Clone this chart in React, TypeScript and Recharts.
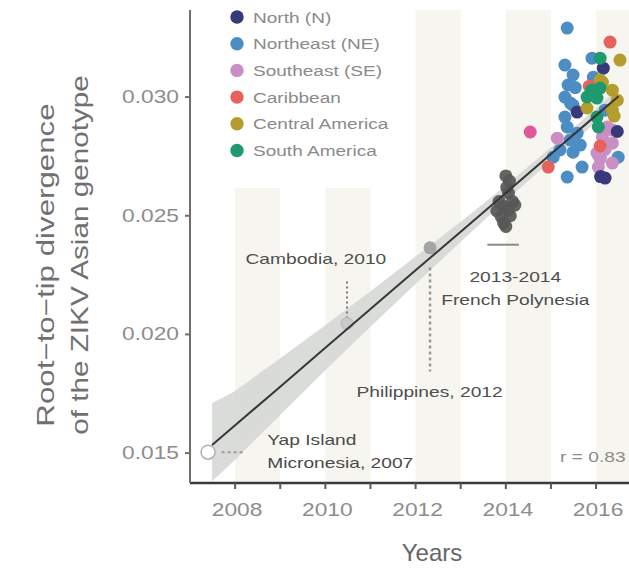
import React from 'react';
import {
  ComposedChart,
  XAxis,
  YAxis,
  Scatter,
  Line,
  Area,
  ReferenceArea,
  ReferenceLine,
  Legend,
} from 'recharts';

const FONT = '"Liberation Sans", Arial, Helvetica, sans-serif';

// ---- linear fit of root-to-tip divergence against sampling year ----
const fitYears = [2007.49, 2008, 2009, 2010, 2011, 2012, 2013, 2014, 2015, 2016, 2016.5];
const fitValues = [0.01534, 0.01617, 0.0178, 0.01944, 0.02107, 0.0227, 0.02433, 0.02596, 0.0276, 0.02923, 0.03004];
const bandLower = [0.0138, 0.01472, 0.0166, 0.01849, 0.02032, 0.02212, 0.02391, 0.02564, 0.02732, 0.02893, 0.0297];
const bandUpper = [0.0171, 0.01762, 0.019, 0.02039, 0.02182, 0.02328, 0.02475, 0.02628, 0.02788, 0.02953, 0.03038];

// ---- American samples by region: [year, divergence] ----
const northSamples = [
  [2016.16, 0.03122], [2015.58, 0.02937], [2016.47, 0.02855], [2016.2, 0.02659], [2016.1, 0.02665],
];
const northeastSamples = [
  [2015.36, 0.03291], [2015.91, 0.03164], [2015.31, 0.03135], [2015.49, 0.03093], [2015.94, 0.03084],
  [2015.38, 0.03051], [2015.54, 0.0304], [2015.31, 0.03], [2015.43, 0.02975], [2015.49, 0.02966],
  [2016.2, 0.02945], [2015.31, 0.02916], [2015.36, 0.02874], [2015.58, 0.02848], [2015.43, 0.02819],
  [2015.65, 0.02798], [2015.2, 0.02777], [2015.49, 0.02768], [2016.05, 0.02756], [2016.09, 0.02747],
  [2016.49, 0.02747], [2015.05, 0.02747], [2015.69, 0.02705], [2015.36, 0.02663],
];
const southeastSamples = [
  [2016.25, 0.02874], [2016.36, 0.02861], [2016.14, 0.02832], [2015.14, 0.02827], [2016.36, 0.02806],
  [2016.2, 0.0278], [2016.02, 0.02764], [2016.09, 0.0274], [2016.36, 0.02722], [2016.05, 0.02705],
];
const caribbeanSamples = [
  [2016.31, 0.03232], [2015.85, 0.03046], [2016.09, 0.02794], [2014.94, 0.02705],
];
const centralAmericaSamples = [
  [2016.53, 0.03156], [2016.09, 0.03072], [2016.14, 0.03063], [2016.36, 0.03029], [2016.47, 0.02987],
  [2015.8, 0.02954], [2016.36, 0.02945], [2016.4, 0.0292],
];
const southAmericaSamples = [
  [2016.09, 0.03164], [2016.09, 0.03038], [2015.9, 0.0303], [2015.8, 0.03], [2016.02, 0.02996],
  [2016.02, 0.02916], [2016.05, 0.02874],
];
const singleOutlier = [[2014.54, 0.02853]];

const regionNames = ['North (N)', 'Northeast (NE)', 'Southeast (SE)', 'Caribbean', 'Central America', 'South America'];
const regionSamples = [
  northSamples, northeastSamples, southeastSamples, caribbeanSamples, centralAmericaSamples, southAmericaSamples,
];

// ---- Pacific / Asian reference samples ----
const yapSample = [[2007.4, 0.01504]];
const cambodiaSample = [[2010.48, 0.02046]];
const philippinesSample = [[2012.32, 0.02365]];
const frenchPolynesiaSamples = [
  [2014.0, 0.02668], [2014.08, 0.02646], [2014.02, 0.0262], [2014.06, 0.02596],
  [2013.85, 0.0256], [2014.15, 0.0256], [2013.95, 0.0254], [2014.2, 0.02545], [2013.8, 0.0252],
  [2014.05, 0.02525], [2013.9, 0.02495], [2014.1, 0.025], [2013.95, 0.0247], [2014.0, 0.02455],
];

// ---- annotation texts anchored in data space ----
const centredNotes = [
  { x: 2009.79, y: 0.02295, text: 'Cambodia, 2010' },
  { x: 2012.31, y: 0.01736, text: 'Philippines, 2012' },
  { x: 2014.21, y: 0.02222, text: '2013-2014' },
  { x: 2014.21, y: 0.02125, text: 'French Polynesia' },
];
const leftNotes = [
  { x: 2008.71, y: 0.01534, text: 'Yap Island' },
  { x: 2008.71, y: 0.01437, text: 'Micronesia, 2007' },
];
const statNotes = [{ x: 2015.2, y: 0.01462, text: 'r = 0.83' }];

// ---- leader lines ----
const yapLeader = [[2007.7, 0.01504], [2008.22, 0.01504]];
const cambodiaLeader = [[2010.48, 0.02223], [2010.48, 0.02063]];
const philippinesLeader = [[2012.32, 0.02282], [2012.32, 0.01844]];
const polynesiaSpan = [[2013.59, 0.02378], [2014.29, 0.02378]];

// ---- axes and shaded years ----
const xTicks = [2008, 2009, 2010, 2011, 2012, 2013, 2014, 2015, 2016];
const yTicks = [0.015, 0.02, 0.025, 0.03];
const X_DOMAIN = [2007, 2016.73];
const Y_DOMAIN = [0.01374, 0.03367];
const stripeStarts = [2008, 2010, 2012, 2014, 2016];
const stripeEnds = [2009, 2011, 2013, 2015, 2016.73];

const regionColors = ['#37397a', '#4c8dc4', '#c98fc4', '#e8625c', '#b39d2c', '#1e9a6e'];
const drawOrder = [1, 2, 0, 3, 4, 5];

const toPoints = (rows: number[][]) => rows.map(([x, y]) => ({ x, y }));
const toSegment = (rows: number[][]) => rows.map(([x, y]) => ({ x, y }));

const fitRows = fitYears.map((x, i) => ({
  x,
  fit: fitValues[i],
  band: [bandLower[i], bandUpper[i]],
}));

function StretchText(props: any) {
  const { x, y, sx = 1, size, fill, anchor = 'start', rotate = false, children } = props;
  const t = `translate(${x},${y})${rotate ? ' rotate(-90)' : ''} scale(${sx},1)`;
  return (
    <text transform={t} x={0} y={0} textAnchor={anchor} fontSize={size} fill={fill} fontFamily={FONT}>
      {children}
    </text>
  );
}

const renderXTick = (p: any) => {
  const v = p.payload.value;
  if (v % 2 !== 0) return <g />;
  return (
    <StretchText x={p.x + 2} y={p.y + 25} sx={1.3} size={17.5} fill="#8c8c8c" anchor="middle">
      {String(v)}
    </StretchText>
  );
};

const renderYTick = (p: any) => (
  <StretchText x={p.x} y={p.y + 6} sx={1.3} size={17.5} fill="#8c8c8c" anchor="end">
    {Number(p.payload.value).toFixed(3)}
  </StretchText>
);

const YTitle = () => (
  <g>
    <StretchText x={54} y={265} sx={1.36} size={23} fill="#707070" anchor="middle" rotate>
      Root−to−tip divergence
    </StretchText>
    <StretchText x={88} y={255} sx={1.29} size={23} fill="#707070" anchor="middle" rotate>
      of the ZIKV Asian genotype
    </StretchText>
  </g>
);

const XTitle = () => (
  <StretchText x={432} y={561} sx={1} size={24} fill="#666666" anchor="middle">
    Years
  </StretchText>
);

const dotShape = (r: number, fill: string, stroke = 'none', strokeWidth = 0, opacity = 1) => (p: any) => (
  <circle cx={p.cx} cy={p.cy} r={r} fill={fill} stroke={stroke} strokeWidth={strokeWidth} fillOpacity={opacity} />
);

const noteShape = (anchor: string, fill: string) => (p: any) => (
  <StretchText x={p.cx} y={p.cy} sx={1.28} size={15} fill={fill} anchor={anchor}>
    {p.payload.text}
  </StretchText>
);

const renderLegend = () => (
  <svg width={221} height={178} style={{ display: 'block', background: '#ffffff' }}>
    {regionNames.map((name, i) => {
      const cy = 7 + i * 26.7;
      return (
        <g key={name}>
          <circle cx={45} cy={cy} r={6.7} fill={regionColors[i]} />
          <StretchText x={61} y={cy + 5.5} sx={1.27} size={15} fill="#8a8a8a">
            {name}
          </StretchText>
        </g>
      );
    })}
  </svg>
);

export default function App() {
  return (
    <div style={{ position: 'absolute', left: 0, top: 0, width: 629, height: 570, background: '#ffffff' }}>
      <ComposedChart
        width={629}
        height={570}
        data={fitRows}
        margin={{ top: 10, right: 0, bottom: 0, left: 0 }}
        style={{ fontFamily: FONT }}
      >
        <XAxis
          type="number"
          dataKey="x"
          domain={X_DOMAIN}
          ticks={xTicks}
          interval={0}
          allowDataOverflow
          height={87}
          tick={renderXTick}
          tickSize={6}
          tickMargin={2}
          axisLine={{ stroke: '#3a3a3a', strokeWidth: 2.5 }}
          tickLine={{ stroke: '#5a5a5a', strokeWidth: 2 }}
          label={<XTitle />}
        />
        <YAxis
          type="number"
          domain={Y_DOMAIN}
          ticks={yTicks}
          interval={0}
          allowDataOverflow
          width={190}
          tick={renderYTick}
          tickSize={5}
          tickMargin={6}
          axisLine={{ stroke: '#6e6e6e', strokeWidth: 2 }}
          tickLine={{ stroke: '#6e6e6e', strokeWidth: 2 }}
          label={<YTitle />}
        />

        {stripeStarts.map((s, i) => (
          <ReferenceArea
            key={`stripe-${s}`}
            x1={s}
            x2={stripeEnds[i]}
            y1={Y_DOMAIN[0]}
            y2={Y_DOMAIN[1]}
            fill="#f6f5ef"
            fillOpacity={1}
            stroke="none"
            ifOverflow="hidden"
            zIndex={-50}
          />
        ))}

        <Area
          dataKey="band"
          type="linear"
          fill="#d4d6d4"
          fillOpacity={0.85}
          stroke="none"
          isAnimationActive={false}
          activeDot={false}
          zIndex={100}
        />

        <ReferenceLine segment={toSegment(yapLeader)} stroke="#9a9a9a" strokeWidth={2} strokeDasharray="3 3" zIndex={500} />
        <ReferenceLine segment={toSegment(cambodiaLeader)} stroke="#7a7a7a" strokeWidth={2} strokeDasharray="2 3" zIndex={500} />
        <ReferenceLine segment={toSegment(philippinesLeader)} stroke="#9a9a9a" strokeWidth={2.5} strokeDasharray="3 3" zIndex={500} />
        <ReferenceLine segment={toSegment(polynesiaSpan)} stroke="#8a8a8a" strokeWidth={2} zIndex={500} />

        <Scatter name="Yap" data={toPoints(yapSample)} dataKey="y" isAnimationActive={false} shape={dotShape(7, '#ffffff', '#b0b0b0', 1.5)} zIndex={600} />
        <Scatter name="Cambodia" data={toPoints(cambodiaSample)} dataKey="y" isAnimationActive={false} shape={dotShape(6, '#c9c9c9', '#b5b5b5', 1)} zIndex={600} />
        <Scatter name="Philippines" data={toPoints(philippinesSample)} dataKey="y" isAnimationActive={false} shape={dotShape(6.5, '#a5a5a5')} zIndex={600} />
        <Scatter name="French Polynesia" data={toPoints(frenchPolynesiaSamples)} dataKey="y" isAnimationActive={false} shape={dotShape(6.5, '#575757', 'none', 0, 0.92)} zIndex={600} />

        {drawOrder.map((i) => (
          <Scatter
            key={regionNames[i]}
            name={regionNames[i]}
            data={toPoints(regionSamples[i])}
            dataKey="y"
            isAnimationActive={false}
            shape={dotShape(6.5, regionColors[i])}
            zIndex={600}
          />
        ))}
        <Scatter name="outlier" data={toPoints(singleOutlier)} dataKey="y" isAnimationActive={false} shape={dotShape(6.5, '#e0579b')} zIndex={600} />

        <Line
          dataKey="fit"
          type="linear"
          stroke="#363636"
          strokeWidth={2}
          dot={false}
          activeDot={false}
          isAnimationActive={false}
          zIndex={700}
        />

        <Scatter data={centredNotes} dataKey="y" isAnimationActive={false} shape={noteShape('middle', '#4e4e4e')} zIndex={800} />
        <Scatter data={leftNotes} dataKey="y" isAnimationActive={false} shape={noteShape('start', '#4a4a4a')} zIndex={800} />
        <Scatter data={statNotes} dataKey="y" isAnimationActive={false} shape={noteShape('start', '#8c8c8c')} zIndex={800} />

        <Legend
          content={renderLegend}
          layout="vertical"
          align="center"
          verticalAlign="middle"
          wrapperStyle={{ position: 'absolute', left: 192, top: 10, width: 221, height: 178 }}
        />
      </ComposedChart>
    </div>
  );
}
